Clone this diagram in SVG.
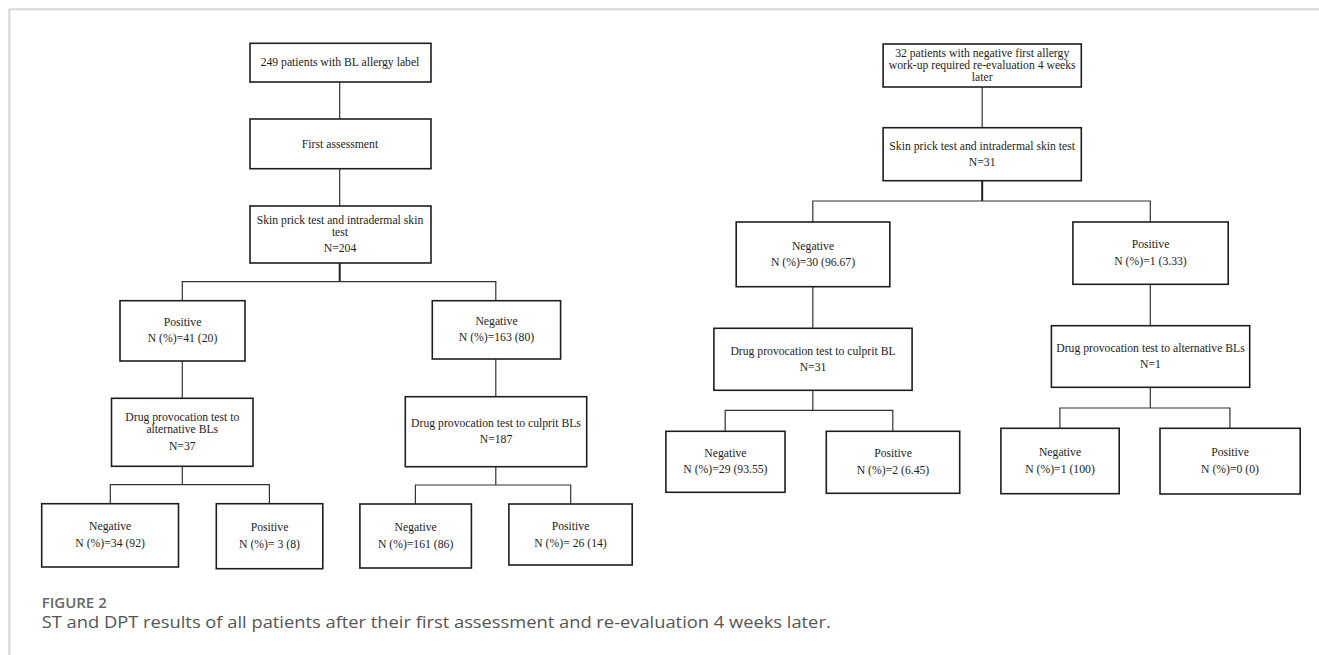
<svg xmlns="http://www.w3.org/2000/svg" width="1319" height="655" viewBox="0 0 1319 655">
<style>
.box{fill:#fff;stroke:#1e1e1e;stroke-width:1.6}
.t{font-family:"Liberation Serif","Times New Roman",serif;font-size:11.7px;fill:#1e1e1e;text-anchor:middle}
.c{fill:none;stroke:#333;stroke-width:1.2}
.stem{fill:none;stroke:#222;stroke-width:2}
.frame{fill:none;stroke:#d6d6d6;stroke-width:2}
.cap1{font-family:"Open Sans","Noto Sans",sans-serif;font-size:15px;font-weight:600;fill:#666}
.cap2{font-family:"Open Sans","Noto Sans",sans-serif;font-size:16px;fill:#555}
</style>
<rect width="1319" height="655" fill="#fff"/>
<path class="frame" d="M9.3 655 V9.3 H1319"/>

<g id="connectors">
<!-- left -->
<path class="c" d="M339.7 82 V119"/>
<path class="c" d="M339.7 168.7 V206"/>
<path class="stem" d="M339.7 263 V281.7"/>
<path class="c" d="M182.3 300.7 V281.7 H495.8 V300.7"/>
<path class="c" d="M182.3 361 V398.3"/>
<path class="c" d="M495.8 359 V396.7"/>
<path class="c" d="M182.3 466.3 V484.7"/>
<path class="c" d="M110.3 503.7 V484.7 H269.4 V503.7"/>
<path class="c" d="M495.8 466.7 V485"/>
<path class="c" d="M415.4 504 V485 H570.7 V504"/>
<!-- right -->
<path class="c" d="M982.2 87 V127.7"/>
<path class="stem" d="M982.2 180.7 V201"/>
<path class="c" d="M812.8 222 V201 H1150.3 V222"/>
<path class="c" d="M812.8 286.7 V328.3"/>
<path class="c" d="M1150.3 284.3 V325.7"/>
<path class="c" d="M812.8 390.3 V410.3"/>
<path class="c" d="M725.2 431.3 V410.3 H892.8 V431.3"/>
<path class="c" d="M1150.3 387.3 V408"/>
<path class="c" d="M1059.9 428.3 V408 H1229.9 V428.3"/>
</g>

<!-- LEFT TREE -->
<g id="l-start"><rect class="box" x="250" y="43.3" width="181" height="38.7"/>
<text class="t" x="340" y="66">249 patients with BL allergy label</text></g>
<g id="l-first"><rect class="box" x="250" y="119" width="181" height="49.7"/>
<text class="t" x="340" y="147.7">First assessment</text></g>
<g id="l-skin"><rect class="box" x="250" y="206" width="181" height="57"/>
<text class="t" x="340" y="224">Skin prick test and intradermal skin</text>
<text class="t" x="340" y="235.7">test</text>
<text class="t" x="340" y="252.3">N=204</text></g>
<g id="l-pos"><rect class="box" x="120" y="300.7" width="125" height="60.3"/>
<text class="t" x="182.5" y="325.7">Positive</text>
<text class="t" x="182.5" y="342.3">N (%)=41 (20)</text></g>
<g id="l-neg"><rect class="box" x="432.3" y="300.7" width="128.3" height="58.3"/>
<text class="t" x="496.5" y="324.7">Negative</text>
<text class="t" x="496.5" y="341.3">N (%)=163 (80)</text></g>
<g id="l-dpt-alt"><rect class="box" x="111.5" y="398.3" width="141.5" height="68"/>
<text class="t" x="182.3" y="421.3">Drug provocation test to</text>
<text class="t" x="182.3" y="433.3">alternative BLs</text>
<text class="t" x="182.3" y="450">N=37</text></g>
<g id="l-dpt-cul"><rect class="box" x="405.3" y="396.7" width="181.4" height="70"/>
<text class="t" x="496" y="427.3">Drug provocation test to culprit BLs</text>
<text class="t" x="496" y="443.3">N=187</text></g>
<g id="l-alt-neg"><rect class="box" x="41.7" y="503.7" width="136.8" height="63.3"/>
<text class="t" x="110.1" y="530">Negative</text>
<text class="t" x="110.1" y="547.3">N (%)=34 (92)</text></g>
<g id="l-alt-pos"><rect class="box" x="216.3" y="503.7" width="106.5" height="65"/>
<text class="t" x="269.5" y="531">Positive</text>
<text class="t" x="269.5" y="548">N (%)= 3 (8)</text></g>
<g id="l-cul-neg"><rect class="box" x="359.9" y="504" width="111.5" height="64"/>
<text class="t" x="415.6" y="531.3">Negative</text>
<text class="t" x="415.6" y="548">N (%)=161 (86)</text></g>
<g id="l-cul-pos"><rect class="box" x="508.9" y="504" width="123.3" height="61"/>
<text class="t" x="570.5" y="529.7">Positive</text>
<text class="t" x="570.5" y="546.7">N (%)= 26 (14)</text></g>

<!-- RIGHT TREE -->
<g id="r-start"><rect class="box" x="883.1" y="44" width="198.2" height="43"/>
<text class="t" x="982.2" y="57.3">32 patients with negative first allergy</text>
<text class="t" x="982.2" y="69">work-up required re-evaluation  4 weeks</text>
<text class="t" x="982.2" y="81">later</text></g>
<g id="r-skin"><rect class="box" x="883.1" y="127.7" width="198.2" height="53"/>
<text class="t" x="982.2" y="149.7">Skin prick test and intradermal skin test</text>
<text class="t" x="982.2" y="166.3">N=31</text></g>
<g id="r-neg"><rect class="box" x="736.2" y="222" width="153.6" height="64.7"/>
<text class="t" x="813" y="249.7">Negative</text>
<text class="t" x="813" y="266.3">N (%)=30 (96.67)</text></g>
<g id="r-pos"><rect class="box" x="1072.9" y="222" width="155.3" height="62.3"/>
<text class="t" x="1150.5" y="248.3">Positive</text>
<text class="t" x="1150.5" y="264.7">N (%)=1 (3.33)</text></g>
<g id="r-dpt-cul"><rect class="box" x="713.9" y="328.3" width="198.2" height="62"/>
<text class="t" x="813" y="354.7">Drug provocation test to culprit BL</text>
<text class="t" x="813" y="371">N=31</text></g>
<g id="r-dpt-alt"><rect class="box" x="1051.4" y="325.7" width="198.3" height="61.6"/>
<text class="t" x="1150.5" y="352">Drug provocation test to alternative BLs</text>
<text class="t" x="1150.5" y="368.3">N=1</text></g>
<g id="r-cul-neg"><rect class="box" x="665.9" y="431.3" width="119.1" height="61"/>
<text class="t" x="725.4" y="457">Negative</text>
<text class="t" x="725.4" y="473.3">N (%)=29 (93.55)</text></g>
<g id="r-cul-pos"><rect class="box" x="826.3" y="431.3" width="133.4" height="62"/>
<text class="t" x="893" y="457.3">Positive</text>
<text class="t" x="893" y="474">N (%)=2 (6.45)</text></g>
<g id="r-alt-neg"><rect class="box" x="1000.9" y="428.3" width="118.3" height="65.4"/>
<text class="t" x="1060" y="456">Negative</text>
<text class="t" x="1060" y="472.7">N (%)=1 (100)</text></g>
<g id="r-alt-pos"><rect class="box" x="1160" y="428.3" width="140.2" height="65.7"/>
<text class="t" x="1230" y="456.3">Positive</text>
<text class="t" x="1230" y="472.7">N (%)=0 (0)</text></g>

<g id="caption">
<text class="cap1" x="41.7" y="608">FIGURE 2</text>
<text class="cap2" x="41.7" y="628" textLength="789" lengthAdjust="spacingAndGlyphs">ST and DPT results of all patients after their first assessment and re-evaluation 4 weeks later.</text>
</g>
</svg>
